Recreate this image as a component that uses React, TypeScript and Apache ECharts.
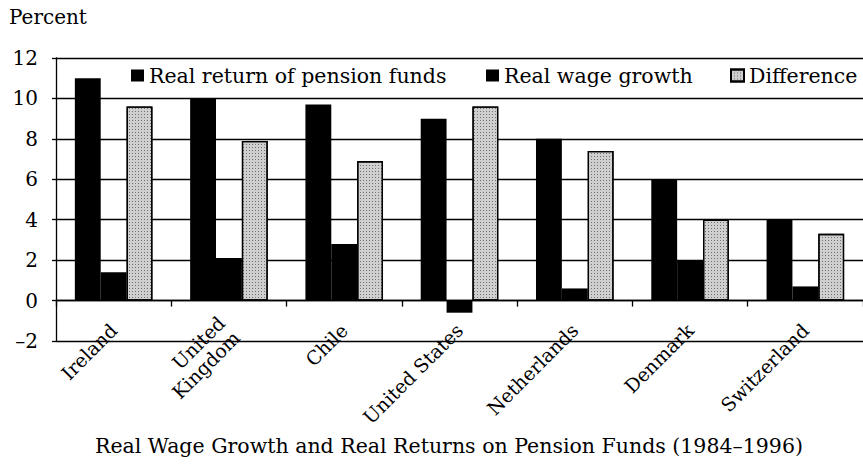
import React, { useEffect, useRef } from "react";
import * as echarts from "echarts";

const categories = ["Ireland", "United\nKingdom", "Chile", "United States", "Netherlands", "Denmark", "Switzerland"];
const realReturn = [11.0, 10.0, 9.7, 9.0, 8.0, 6.0, 4.0];
const realWage = [1.4, 2.1, 2.8, -0.6, 0.6, 2.0, 0.7];
const difference = [9.6, 7.9, 6.9, 9.6, 7.4, 4.0, 3.3];
const seriesNames = ["Real return of pension funds", "Real wage growth", "Difference"];
const yAxisName = "Percent";
const chartTitle = "Real Wage Growth and Real Returns on Pension Funds (1984\u20131996)";

const FONT = "'DejaVu Serif', serif";
const legendLefts = [131, 486, 730];

export default function App() {
  const ref = useRef<HTMLDivElement>(null);
  useEffect(() => {
    document.body.style.margin = "0";
    const chart = echarts.init(ref.current!, null, { renderer: "svg" });
    chart.setOption({
      animation: false,
      backgroundColor: "#ffffff",
      textStyle: { fontFamily: FONT, color: "#000" },
      title: {
        text: chartTitle,
        left: 95,
        top: 435,
        padding: 0,
        textStyle: { fontFamily: FONT, fontSize: 20.5, fontWeight: "normal", color: "#000" },
      },
      graphic: [
        {
          type: "text",
          left: 9,
          top: 7,
          style: { text: yAxisName, font: `20px ${FONT}`, fill: "#000" },
        },
      ],
      legend: seriesNames.map((name, i) => ({
        left: legendLefts[i],
        top: 65,
        padding: 0,
        icon: "rect",
        itemWidth: 13,
        itemHeight: 12,
        textStyle: { fontFamily: FONT, fontSize: 20.5, color: "#000" },
        data: [name],
      })),
      grid: { left: 56, top: 58, width: 815, bottom: 124, containLabel: false },
      xAxis: {
        type: "category",
        data: categories,
        axisLine: { onZero: true, lineStyle: { color: "#000", width: 1.3 } },
        axisTick: { show: true, length: 6, lineStyle: { color: "#000", width: 1.3 } },
        axisLabel: {
          interval: 0,
          rotate: 45,
          margin: -14,
          fontFamily: FONT,
          fontSize: 19,
          color: "#000",
          lineHeight: 21,
        },
      },
      yAxis: {
        type: "value",
        min: -2,
        max: 12,
        interval: 2,
        axisLine: { show: true, lineStyle: { color: "#000", width: 1.3 } },
        axisTick: { show: true, length: 4, lineStyle: { color: "#000", width: 1.3 } },
        splitLine: { show: true, lineStyle: { color: "#000", width: 1.3 } },
        axisLabel: {
          margin: 18,
          fontFamily: FONT,
          fontSize: 20,
          color: "#000",
          formatter: (v: number) => (v < 0 ? "\u2013" + Math.abs(v) : String(v)),
        },
      },
      series: [
        {
          name: seriesNames[0],
          type: "bar",
          data: realReturn,
          barGap: "0%",
          barCategoryGap: "32.7%",
          itemStyle: { color: "#000" },
        },
        {
          name: seriesNames[1],
          type: "bar",
          data: realWage,
          itemStyle: { color: "#000" },
        },
        {
          name: seriesNames[2],
          type: "bar",
          data: difference,
          itemStyle: {
            color: "#cfcfcf",
            borderColor: "#000",
            borderWidth: 1.3,
            decal: {
              symbol: "rect",
              symbolSize: 1,
              color: "rgba(0,0,0,0.45)",
              dashArrayX: [1, 2],
              dashArrayY: [1, 2],
            },
          },
        },
      ],
    });
    return () => chart.dispose();
  }, []);
  return <div ref={ref} style={{ width: 863, height: 465 }} />;
}
